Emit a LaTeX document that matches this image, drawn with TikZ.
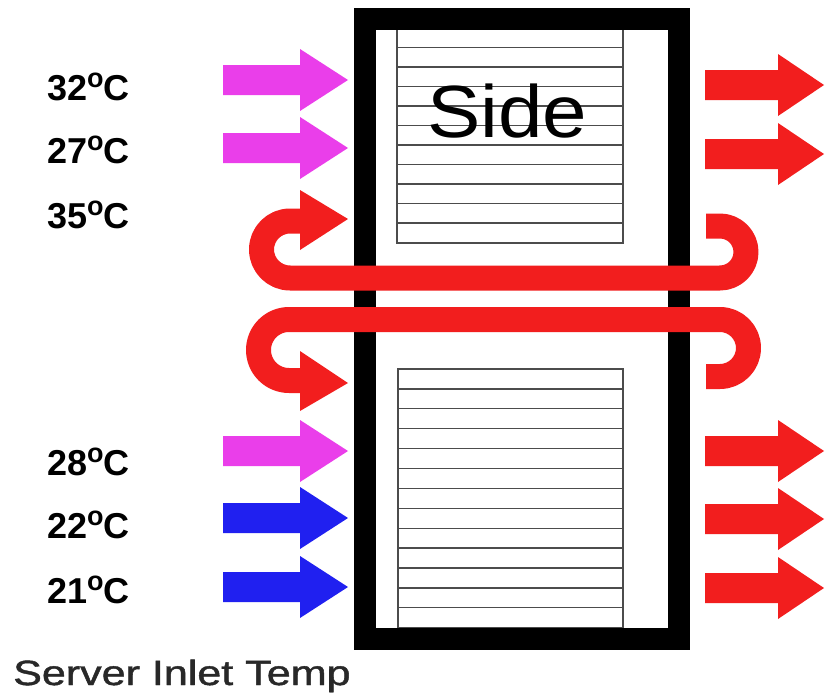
\documentclass[tikz,border=0pt]{standalone}
\usepackage{fontspec}
\setmainfont{Liberation Sans}
\newfontfamily\captionfont[FakeBold=1.2]{Liberation Sans}
\definecolor{hotred}{RGB}{242,30,30}
\definecolor{warmpink}{RGB}{234,62,234}
\definecolor{coolblue}{RGB}{32,32,240}
\definecolor{captiongray}{RGB}{40,40,40}
\newcommand{\tempdeg}[1]{#1\raisebox{12.5pt}{\fontsize{27}{27}\selectfont o}C}
% colour, tail x, head-base x, tip x, centre y
\newcommand{\flowarrow}[5]{\fill[#1] (#2,#5-15) -- (#3,#5-15) -- (#3,#5-31) -- (#4,#5) -- (#3,#5+31) -- (#3,#5+15) -- (#2,#5+15) -- cycle;}
\begin{document}
\begin{tikzpicture}[x=1pt,y=-1pt,
  templabel/.style={font=\fontsize{36}{36}\selectfont\bfseries, anchor=base west, inner sep=0},
  hatch/.style={draw=black!70, line width=1.3},
  frameline/.style={draw=black, line width=22},
  recirc/.style={draw=hotred, line width=25, line cap=butt, line join=round},
]
\useasboundingbox[fill=white] (0,0) rectangle (825,696);

% server hatching
\draw[hatch] (397,28) rectangle (623,243);
\foreach \k in {1,...,10} \draw[hatch] (397,28+19.5*\k) -- (623,28+19.5*\k);
\draw[hatch] (398,369) rectangle (623,628);
\foreach \k in {1,...,12} \draw[hatch] (398,369+19.9*\k) -- (623,369+19.9*\k);

% rack frame
\draw[frameline] (364.5,19) rectangle (679,639);

\node[font=\fontsize{74}{74}\selectfont, anchor=base, inner sep=0] (side) at (507,137) {\scalebox{1.08}[1]{Side}};

% inlet arrows
\flowarrow{warmpink}{223}{300}{348}{80}
\flowarrow{warmpink}{223}{300}{348}{148}
\flowarrow{warmpink}{223}{300}{348}{451}
\flowarrow{coolblue}{223}{300}{348}{518}
\flowarrow{coolblue}{223}{300}{348}{587}

% outlet arrows
\flowarrow{hotred}{705}{778}{824}{85}
\flowarrow{hotred}{705}{778}{824}{154}
\flowarrow{hotred}{705}{778}{824}{451}
\flowarrow{hotred}{705}{778}{824}{519}
\flowarrow{hotred}{705}{778}{824}{588}

% recirculation over the top
\draw[recirc] (706,226) -- (720,226) arc[start angle=-90, end angle=90, radius=26]
  -- (290,278) arc[start angle=90, end angle=270, radius=28.5] -- (302,221);
\fill[hotred] (300,190) -- (348,219) -- (300,250) -- cycle;

% recirculation under the bottom
\draw[recirc] (706,376.5) -- (720,376.5) arc[start angle=90, end angle=-90, radius=28.5]
  -- (289,319.5) arc[start angle=-90, end angle=-270, radius=30.5] -- (302,380.5);
\fill[hotred] (300,351) -- (348,383) -- (300,411) -- cycle;

% labels
\node[templabel] (t32) at (47,100) {\tempdeg{32}};
\node[templabel] (t27) at (47,163) {\tempdeg{27}};
\node[templabel] (t35) at (47,228) {\tempdeg{35}};
\node[templabel] (t28) at (47,475) {\tempdeg{28}};
\node[templabel] (t22) at (47,538) {\tempdeg{22}};
\node[templabel] (t21) at (47,603) {\tempdeg{21}};

\node[font=\captionfont\fontsize{35}{35}\selectfont, text=captiongray, anchor=base west, inner sep=0] (caption) at (13,685) {\scalebox{1.23}[1]{Server Inlet Temp}};
\end{tikzpicture}
\end{document}
